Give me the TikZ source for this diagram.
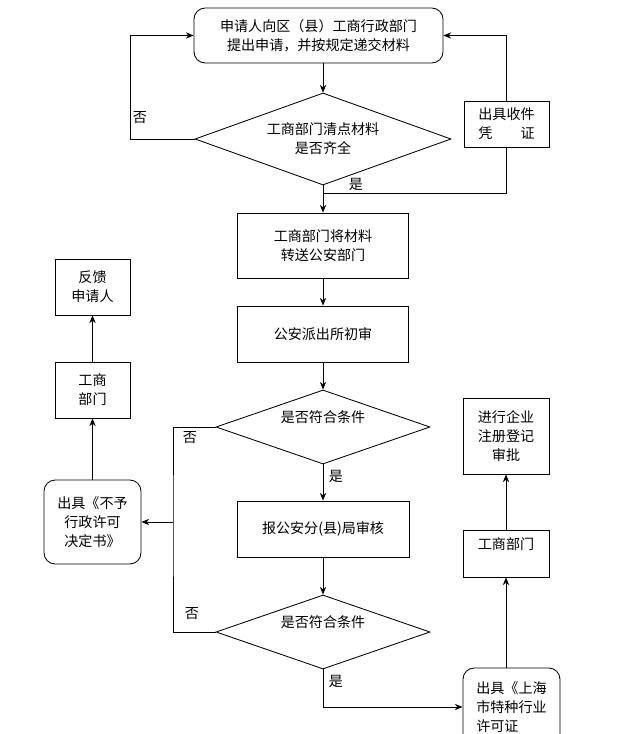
\documentclass[tikz,border=0pt]{standalone}
\usepackage{fontspec}
\newfontfamily\cjk{Noto Sans CJK SC}
\usetikzlibrary{shapes.geometric,arrows.meta}
\tikzset{>={Stealth[length=5.5pt,width=4.5pt]}}
\tikzset{
  box/.style={draw, rectangle, align=center, inner sep=0pt},
  rbox/.style={box, rounded corners=8pt},
  decide/.style={draw, diamond, aspect=2.8, inner sep=0pt, align=center},
  tag/.style={inner sep=0pt}
}

\begin{document}
\begin{tikzpicture}[x=0.025cm,y=-0.025cm,line width=0.6pt,
    font=\cjk\fontsize{10}{13.5}\selectfont]
    \useasboundingbox (0,0) rectangle (636,734);
    \clip (0,0) rectangle (636,734);
    % main column
    \node[rbox,minimum width=6.225cm,minimum height=1.375cm] (apply) at (318.5,35.5)
        {申请人向区（县）工商行政部门\\提出申请，并按规定递交材料};
    \node[decide,minimum width=6.4cm,minimum height=2.3cm] (check) at (323,139)
        {工商部门清点材料\\是否齐全};
    \node[box,minimum width=2.125cm,minimum height=1.15cm] (receipt) at (506.5,124)
        {出具收件\\凭\hspace{2em}证};
    \node[box,minimum width=4.275cm,minimum height=1.625cm] (transfer) at (323,245.5)
        {工商部门将材料\\转送公安部门};
    \node[box,minimum width=4.275cm,minimum height=1.4cm] (police) at (323,334)
        {公安派出所初审};
    \node[decide,minimum width=5.35cm,minimum height=1.85cm] (cond1) at (323,427)
        {是否符合条件\\\phantom{是}};
    \node[box,minimum width=4.3cm,minimum height=1.4cm] (review) at (323,529)
        {报公安分(县)局审核};
    \node[decide,minimum width=5.35cm,minimum height=1.85cm] (cond2) at (323,632)
        {是否符合条件\\\phantom{是}};
    % right column
    \node[rbox,align=left,minimum width=2.425cm,minimum height=1.95cm] (license) at (511.5,707)
        {出具《上海\\市特种行业\\许可证};
    \node[box,minimum width=2.15cm,minimum height=1.175cm] (icright) at (506,553.5)
        {工商部门\\\phantom{工}};
    \node[box,minimum width=2.15cm,minimum height=1.9cm] (register) at (506,436)
        {进行企业\\注册登记\\审批};
    % left column
    \node[rbox,minimum width=2.425cm,minimum height=2.1cm] (refuse) at (92.5,522)
        {出具《不予\\行政许可\\决定书》};
    \node[box,minimum width=1.875cm,minimum height=1.4cm] (icleft) at (92.5,390)
        {工商\\部门};
    \node[box,minimum width=1.875cm,minimum height=1.4cm] (feedback) at (92.5,287)
        {反馈\\申请人};
    \coordinate (yes1) at (323,193);
    \coordinate (ncol) at (173,522);
    % connectors
    \draw[->] (check.north |- apply.south) -- (check.north);
    \draw[->] (check.west) -- ++(-64,0) |- (apply.west);
    \draw[->] (receipt.north) |- (apply.east);
    \draw[->] (check.south) -- (transfer.north);
    \draw (receipt.south) |- (yes1);
    \draw[->] (transfer) -- (police);
    \draw[->] (police) -- (cond1.north);
    \draw[->] (cond1.south) -- (review.north);
    \draw[->] (review) -- (cond2.north);
    \draw (cond1.west) -| (ncol) |- (cond2.west);
    \draw[->] (ncol) -- (refuse.east);
    \draw[->] (cond2.south) |- (license.west);
    \draw[->] (icright.south |- license.north) -- (icright.south);
    \draw[->] (icright.north) -- (register.south);
    \draw[->] (refuse.north) -- (icleft.south);
    \draw[->] (icleft.north) -- (feedback.south);
    % labels
    \node[tag] (no1) at (140,118) {否};
    \node[tag] (yes1t) at (356,184) {是};
    \node[tag] (no2) at (190,438) {否};
    \node[tag] (yes2) at (336,476) {是};
    \node[tag] (no3) at (192,614) {否};
    \node[tag] (yes3) at (336,681) {是};
\end{tikzpicture}
\end{document}
